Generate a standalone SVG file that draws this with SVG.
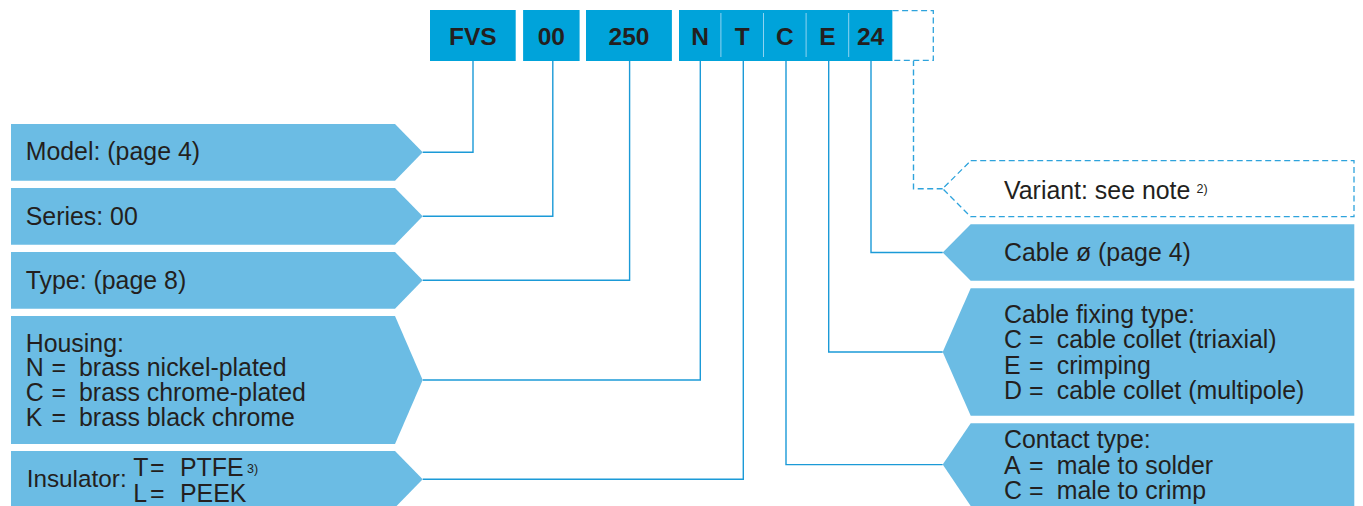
<svg xmlns="http://www.w3.org/2000/svg" width="1363" height="506" viewBox="0 0 1363 506">
<defs>
<style>
.bar{fill:#00a3da}
.div{stroke:#8fd3f0;stroke-width:1}
.code{font-family:"Liberation Sans",Arial,sans-serif;font-weight:bold;font-size:24.5px;fill:#231f20;text-anchor:middle}
.node{fill:#6bbce4}
.dnode{fill:#ffffff;stroke:#2ea3dc;stroke-width:1.3;stroke-dasharray:6 3.5}
.t{font-family:"Liberation Sans",Arial,sans-serif;font-size:24.9px;fill:#231f20}
.sup{font-family:"Liberation Sans",Arial,sans-serif;font-size:12.5px;fill:#231f20}
.con{fill:none;stroke:#1b9ad7;stroke-width:1.4}
.dcon{fill:none;stroke:#2ea3dc;stroke-width:1.4;stroke-dasharray:6 3.5}
</style>
</defs>
<rect width="1363" height="506" fill="#ffffff"/>

<g id="code">
<rect class="bar" x="430" y="10" width="85.7" height="51"/>
<text class="code" x="472.9" y="45">FVS</text>
<rect class="bar" x="523.1" y="10" width="56.5" height="51"/>
<text class="code" x="551.3" y="45">00</text>
<rect class="bar" x="586" y="10" width="85.9" height="51"/>
<text class="code" x="629" y="45">250</text>
<rect class="bar" x="679" y="10" width="213.6" height="51"/>
<line class="div" x1="720.9" y1="13" x2="720.9" y2="57"/>
<line class="div" x1="763.5" y1="13" x2="763.5" y2="57"/>
<line class="div" x1="806.1" y1="13" x2="806.1" y2="57"/>
<line class="div" x1="848.7" y1="13" x2="848.7" y2="57"/>
<text class="code" x="700" y="45">N</text>
<text class="code" x="742.2" y="45">T</text>
<text class="code" x="784.8" y="45">C</text>
<text class="code" x="827.4" y="45">E</text>
<text class="code" x="870.6" y="45">24</text>
<path class="dnode" d="M892.6,10.6 H933.3 V60.4 H892.6" fill="none"/>
</g>

<g id="connectors">
<path class="con" d="M422.7,152.3 H473 V61"/>
<path class="con" d="M422.7,216.3 H552.8 V61"/>
<path class="con" d="M422.7,280.3 H629.6 V61"/>
<path class="con" d="M422.7,380 H700.3 V61"/>
<path class="con" d="M422.7,479.3 H743.3 V61"/>
<path class="con" d="M942.7,464.6 H786 V61"/>
<path class="con" d="M942.7,352 H828.7 V61"/>
<path class="con" d="M942.7,252.5 H871 V61"/>
<path class="dcon" d="M942.7,188.7 H913.5 V61"/>
</g>

<g id="model">
<polygon class="node" points="11,124 395,124 422.7,152.3 395,180.7 11,180.7"/>
<text class="t" x="25.7" y="160">Model: (page 4)</text>
</g>
<g id="series">
<polygon class="node" points="11,188 395,188 422.7,216.3 395,244.7 11,244.7"/>
<text class="t" x="25.7" y="224.5">Series: 00</text>
</g>
<g id="type">
<polygon class="node" points="11,252 395,252 422.7,280.3 395,308.7 11,308.7"/>
<text class="t" x="25.7" y="288.5">Type: (page 8)</text>
</g>
<g id="housing">
<polygon class="node" points="11,316 395,316 422.7,380 395,444 11,444"/>
<text class="t" x="25.7" y="351.7">Housing:</text>
<text class="t" y="375.7"><tspan x="25.7">N</tspan><tspan x="51.5">=</tspan><tspan x="79">brass nickel-plated</tspan></text>
<text class="t" y="400.7"><tspan x="25.7">C</tspan><tspan x="51.5">=</tspan><tspan x="79">brass chrome-plated</tspan></text>
<text class="t" y="426.2"><tspan x="25.7">K</tspan><tspan x="51.5">=</tspan><tspan x="79">brass black chrome</tspan></text>
</g>
<g id="insulator">
<polygon class="node" points="11,451 395,451 422.7,479.3 395,507.6 11,507.6"/>
<text class="t" x="26.7" y="486.7" style="font-size:24.3px">Insulator:</text>
<text class="t" y="476"><tspan x="133.3">T</tspan><tspan x="150">=</tspan><tspan x="180">PTFE</tspan></text>
<text class="sup" x="247" y="473">3)</text>
<text class="t" y="502.3"><tspan x="133.3">L</tspan><tspan x="150">=</tspan><tspan x="180">PEEK</tspan></text>
</g>

<g id="variant">
<polygon class="dnode" points="970.7,160.7 1354,160.7 1354,216.7 970.7,216.7 942.7,188.7"/>
<text class="t" x="1004" y="199">Variant: see note</text>
<text class="sup" x="1196.5" y="193">2)</text>
</g>
<g id="cable-dia">
<polygon class="node" points="970.7,224.3 1354.3,224.3 1354.3,280.7 970.7,280.7 942.7,252.5"/>
<text class="t" x="1004" y="260.7">Cable ø (page 4)</text>
</g>
<g id="cable-fixing">
<polygon class="node" points="970.7,288.3 1354.3,288.3 1354.3,415.7 970.7,415.7 942.7,352"/>
<text class="t" x="1004" y="323.3">Cable fixing type:</text>
<text class="t" y="348.3"><tspan x="1004">C</tspan><tspan x="1029">=</tspan><tspan x="1056.7">cable collet (triaxial)</tspan></text>
<text class="t" y="374"><tspan x="1004">E</tspan><tspan x="1029">=</tspan><tspan x="1056.7">crimping</tspan></text>
<text class="t" y="399.3"><tspan x="1004">D</tspan><tspan x="1029">=</tspan><tspan x="1056.7">cable collet (multipole)</tspan></text>
</g>
<g id="contact">
<polygon class="node" points="970.7,423.3 1354.3,423.3 1354.3,506 970.7,506 942.7,464.6"/>
<text class="t" x="1004" y="448.3">Contact type:</text>
<text class="t" y="474.3"><tspan x="1004">A</tspan><tspan x="1029">=</tspan><tspan x="1056.7">male to solder</tspan></text>
<text class="t" y="499.3"><tspan x="1004">C</tspan><tspan x="1029">=</tspan><tspan x="1056.7">male to crimp</tspan></text>
</g>
</svg>
